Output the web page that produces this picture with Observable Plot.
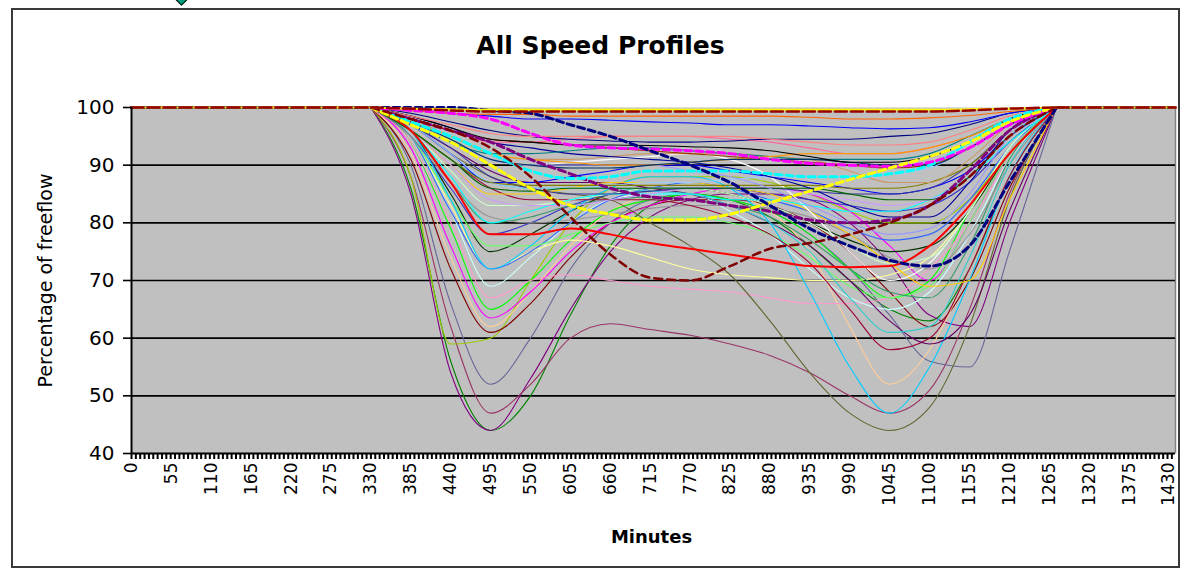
<!DOCTYPE html>
<html>
<head>
<meta charset="utf-8">
<script src="https://cdn.jsdelivr.net/npm/d3@7"></script>
<script src="https://cdn.jsdelivr.net/npm/@observablehq/plot@0.6"></script>
<style>
  body { margin: 0; background: #fff; }
  #wrap { position: relative; width: 1182px; height: 570px; overflow: hidden; }
  #chart { position: absolute; left: 0; top: 0; }
  #border { position: absolute; left: 11px; top: 8px; width: 1165px; height: 556px; border: 2px solid #3a3a3a; }
  #marker { position: absolute; left: 177px; top: -5px; width: 7px; height: 7px; background: #00a080; border: 1.5px solid #000; transform: rotate(45deg); }
</style>
</head>
<body>
<div id="wrap"><div id="chart"></div><div id="border"></div><div id="marker"></div></div>
<script>
// ---------- data ----------
const chartTitle = "All Speed Profiles";
const xTitle = "Minutes";
const yTitle = "Percentage of freeflow";

const minutes = [0, 330, 385, 440, 495, 550, 605, 660, 715, 770, 825, 880, 935, 990, 1045, 1100, 1155, 1210, 1275, 1439];
const xTickLabels = [0, 55, 110, 165, 220, 275, 330, 385, 440, 495, 550, 605, 660, 715, 770, 825, 880, 935, 990, 1045, 1100, 1155, 1210, 1265, 1320, 1375, 1430];
const yTickLabels = [40, 50, 60, 70, 80, 90, 100];
const gridValues = [50, 60, 70, 80, 90];

// profiles with a deep morning dip
const amDeep = [
  [100,100,86,56,44,50,64,76,83,85,84,81,76,70,65,63,72,88,100,100],
  [100,100,85,54,44,53,65,75,81,84,85,85,84,80,73,64,62,80,100,100],
  [100,100,88,62,47,52,60,62.5,61.5,60.5,59,57,54,50,47,51,65,85,100,100],
  [100,100,90,66,52,60,72,80,84,85,84,82,78,72,64,56,55,75,100,100],
  [100,100,88,59,60,70,80,86,88,88,88,87,85,82,80,80,84,92,100,100],
  [100,100,91,72,61,66,74,80,83,84,84,83,80,75,68,62,70,86,100,100],
  [100,100,92,74,62,68,76,82,85,86,85,82,75,62,52,58,72,88,100,100],
  [100,100,93,76,63.5,68,75,80,83,85,86,86,85,82,76,70,80,92,100,100],
  [100,100,94,79,65,70,77,82,84,85,84,82,78,72,67,70,82,93,100,100],
  [100,100,94,80,67,70,71,70,69,68.5,68,67,66,66,67,72,80,91,100,100],
  [100,100,95,82,69,74,80,84,85,85,82,78,72,67,65,68,78,91,100,100],
  [100,100,95,83,72,75,77,76,74,72,71,70.5,70,70,71,74,82,92,100,100],
  [100,100,95,82,72,75,80,84,86,87,86,84,82,79,77,78,84,93,100,100],
  [100,100,96,85,75,78,82,85,86,86,85,83,80,77,75,76,82,92,100,100],
  [100,100,95,84,76,76,78,80,81,81,80,78,74,69,67,69,80,92,100,100],
  [100,100,95,86,78,80,83,85,86,86,86,85,84,83,82,83,87,94,100,100],
  [100,100,96,87,80,81,83,84,84.5,84,83,81,77,72,68,67,76,91,100,100],
  [100,100,95,87,81,80,80.5,81.5,82.5,83,83,82.5,81,78,74,72,78,90,100,100]
];
// profiles with a deep evening dip
const pmDeep = [
  [100,100,96,84,72,76,82,86,88,88,86,80,68,55,47,55,70,88,100,100],
  [100,100,97,92,88,86,85,84,80,76,71,63,54,47,44,48,62,84,100,100],
  [100,100,96,91,86,84,84,84,84,83,81,78,73,65,58,60,72,88,100,100],
  [100,100,97,93,89,87,87,87,86,85,83,80,76,70,63,59,64,82,100,100],
  [100,100,96,91,87,86,86,86,85.5,85,83,80,75,67,61,62,74,90,100,100],
  [100,100,96,90,85,85,86,87,87,87,86,85,82,78,73,69,70,84,100,100],
  [100,100,97,94,91,90,90.5,91,91.5,92,91,88,82,75,70,73,82,93,100,100],
  [100,100,96,89,83,83,84,85,86,86,85,83,80,76,73,74,82,93,100,100]
];
// moderate profiles
const moderate = [
  [100,100,96,88,80,82,84,85,85,85,84,84,83,82,82,84,88,94,100,100],
  [100,100,97,92,87,87,88,89,90,90,89,88,87,86,85,86,89,95,100,100],
  [100,100,97,92,87,86,86,86.5,87,87,87.5,88,88,88,88.5,89.5,93,97,100,100],
  [100,100,96,90,84,83,83,84,85,86,86,86,85,84,83,84,88,95,100,100],
  [100,100,97,93,88,86,85,85,85.5,86,86,86,85.5,85,85,86,90,96,100,100],
  [100,100,96,91,87,86.5,86.5,86.5,86.5,86.5,86.5,86.5,86.5,86,86,87,90,96,100,100],
  [100,100,96,91,86,85.5,86,86,86,86,86,86,86,85,84,84,88,95,100,100],
  [100,100,98,95,92,91,91,91.5,92,92,92,91.5,91,89,87,87,91,97,100,100],
  [100,100,97,94,91,90,90,90,90,89,88,86,83,80,78,79,85,95,100,100],
  [100,100,98.5,96.5,94,93,92,91.5,91,90.5,89.5,88,86,83,81,81,87,96,100,100],
  [100,100,98,96,94,94,94.5,95,95,95,94.5,94,93,92,92,93,95,98,100,100],
  [100,100,97,94,92,92,92.5,93,93,92.5,92,91.5,91,91,91,92,95,98,100,100],
  [100,100,99,97.5,96,95,94.5,94.2,94,94,94.2,94.5,94.5,94.5,95,95.5,97,99,100,100],
  [100,100,97.5,95,92,91,90.5,90,90,90.5,91,91.5,92,92,92,93,95,98,100,100],
  [100,100,98,96,94.5,94,93.5,93,92.5,92,91.5,91,90.5,90,89.5,90,93,97,100,100],
  [100,100,97.5,94.5,91,90,89.5,89.5,90,90.5,91,91,91,90.5,90,90,93,97,100,100],
  [100,100,98.5,96.5,94.5,94,93.5,93.5,93.4,93.2,93,92.5,91.5,90.5,90.5,91.5,94,98,100,100],
  [100,100,98.5,97,95.5,95,95,95,95,95,95,94.5,94,93.5,93.5,94,96,98.5,100,100],
  [100,100,99.5,99,98.5,98,98,97.8,97.5,97.3,97,97,96.8,96.5,96.3,96.5,97.5,99,100,100],
  [100,100,99.5,99,98.8,98.8,98.5,98.5,98.5,98.5,98.5,98.5,98.3,98,98,98.2,98.6,99.3,100,100]
];
// highlighted (heavier) profiles
const highlighted = [
  [100,100,96,87,78,78,79,78,76.5,75.5,74.5,73.5,72.5,72.3,72.5,76,83,92,100,100],
  [100,100,98,96,94,91,88.5,86,84.5,84,83,82,80.5,80,80.5,83,89,96,100,100],
  [100,100,97.5,95,92,89,87.7,88,89,89,89,88.5,88,88,88.5,90,94,98,100,100],
  [100,100,99.5,99,98,95.5,93.5,93,92.8,92.5,92,91,90.3,90,89.8,90.5,93,97,100,100],
  [100,100,97,94,90,86,83,81.5,80.5,80.5,81.5,83.5,85.5,87.5,89.5,91.5,94,97.5,100,100],
  [100,100,98,96,93,88,81,74.5,70.5,70,72.5,75.5,76.5,78,80,83,88,95,100,100],
  [100,100,100,100,99.5,99,97,95,92.5,90,87,83,79,76,73.5,72.5,76,87,100,100],
  [100,100,99.8,99.7,99.6,99.6,99.6,99.6,99.6,99.6,99.6,99.6,99.6,99.6,99.6,99.6,99.7,99.8,100,100],
  [100,100,99.8,99.5,99.3,99.3,99.3,99.3,99.3,99.3,99.3,99.3,99.3,99.3,99.3,99.3,99.5,99.8,100,100]
];

// ---------- styles ----------
const amDeepColors = ["#008000","#800080","#993366","#666699","#99CC00","#800000","#FFCC99","#FF00FF","#00FF00","#FF99CC","#CCFFFF","#FFFF99","#3366FF","#003300","#66FF66","#3333CC","#339966","#969696"];
const pmDeepColors = ["#00CCFF","#666633","#990033","#660066","#33CCCC","#FFCC00","#FFFFFF","#CCFFCC"];
const moderateColors = ["#00FFFF","#0000FF","#99CCFF","#CC99FF","#333399","#808000","#006600","#CC9966","#9999FF","#000099","#FF6699","#008080","#000080","#FF9900","#993300","#003366","#000000","#FF8080","#0000FF","#FF6600"];
const highlightedStyles = [
  {stroke:"#FF0000", width:2, dash:null},
  {stroke:"#800080", width:3, dash:"7,4"},
  {stroke:"#00FFFF", width:3, dash:"7,4"},
  {stroke:"#FF00FF", width:3, dash:"7,4"},
  {stroke:"#FFFF00", width:3, dash:"7,4"},
  {stroke:"#800000", width:2.5, dash:"8,5"},
  {stroke:"#000080", width:3, dash:"7,4"},
  {stroke:"#FFFF00", width:2, dash:null},
  {stroke:"#990000", width:2.5, dash:"12,4"}
];

// ---------- build ----------
const series = [
  ...amDeep.map((v, i) => ({values: v, stroke: amDeepColors[i], width: 1.1, dash: null})),
  ...pmDeep.map((v, i) => ({values: v, stroke: pmDeepColors[i], width: 1.1, dash: null})),
  ...moderate.map((v, i) => ({values: v, stroke: moderateColors[i], width: 1.1, dash: null})),
  ...highlighted.map((v, i) => ({values: v, ...highlightedStyles[i]}))
];

const lineMarks = [];
for (const s of series) {
  const rows = s.values.map((v, j) => ({minute: minutes[j], value: v}));
  const style = {x: "minute", y: "value", stroke: s.stroke, strokeWidth: s.width};
  if (s.dash) style.strokeDasharray = s.dash;
  const mid = rows.filter(d => d.minute >= 330 && d.minute <= 1275);
  const left = rows.filter(d => d.minute <= 330);
  const right = rows.filter(d => d.minute >= 1275);
  lineMarks.push(Plot.line(mid, {...style, curve: "monotone-x"}));
  lineMarks.push(Plot.line(left, style));
  lineMarks.push(Plot.line(right, style));
}

const minorTicks = d3.range(0, 1440, 6);

const chart = Plot.plot({
  width: 1182,
  height: 570,
  marginLeft: 131,
  marginRight: 7,
  marginTop: 107,
  marginBottom: 117,
  style: {fontFamily: "'DejaVu Sans', sans-serif", background: "transparent", overflow: "visible", color: "#000"},
  x: {domain: [0, 1439], label: null},
  y: {domain: [40, 100], label: null},
  marks: [
    Plot.frame({fill: "#C0C0C0", stroke: null}),
    Plot.ruleX([1439], {stroke: "#808080", strokeWidth: 1.5}),
    Plot.ruleY(gridValues, {stroke: "#000", strokeWidth: 1.6}),
    ...lineMarks,
    Plot.ruleX([0], {stroke: "#000", strokeWidth: 2}),
    Plot.ruleY([40], {stroke: "#000", strokeWidth: 2}),
    Plot.axisY({ticks: yTickLabels, tickSize: 8, tickPadding: 9, fontSize: 20, strokeWidth: 1.6, tickFormat: d => String(d), label: null}),
    Plot.axisX({ticks: minorTicks, tickSize: 6, tickFormat: () => "", strokeWidth: 2, label: null}),
    Plot.axisX({ticks: xTickLabels, tickSize: 0, tickPadding: 9, tickRotate: -90, fontSize: 17, tickFormat: d => String(d), label: null}),
    Plot.text([yTitle], {text: d => d, frameAnchor: "left", dx: -86, rotate: -90, fontSize: 19, textAnchor: "middle", lineAnchor: "middle"}),
    Plot.text([chartTitle], {text: d => d, frameAnchor: "top-left", dx: 469, dy: -62, fontSize: 25, fontWeight: "bold", textAnchor: "middle", lineAnchor: "middle"}),
    Plot.text([xTitle], {text: d => d, frameAnchor: "bottom-left", dx: 520, dy: 84, fontSize: 18, fontWeight: "bold", textAnchor: "middle", lineAnchor: "middle"})
  ]
});
// make sure axis tick labels use the intended sizes
const xLabelSet = new Set(xTickLabels.map(String));
const yLabelSet = new Set(yTickLabels.map(String));
d3.select(chart).selectAll("text").each(function () {
  const t = this.textContent;
  if (xLabelSet.has(t)) this.style.fontSize = "17px";
  else if (yLabelSet.has(t)) this.style.fontSize = "20px";
});
document.getElementById("chart").appendChild(chart);
</script>
</body>
</html>
